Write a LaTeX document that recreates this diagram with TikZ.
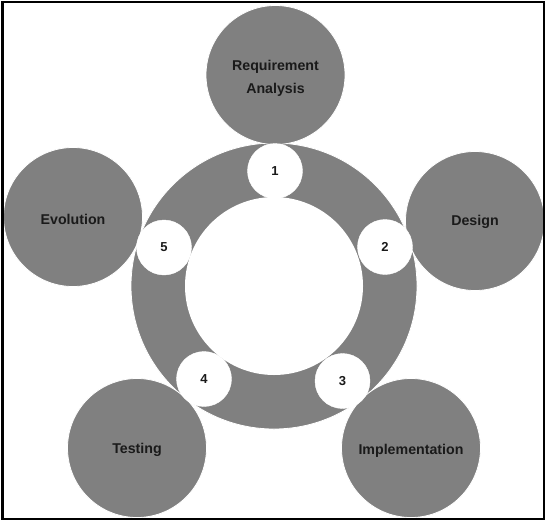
\documentclass[tikz,border=0pt]{standalone}
\usepackage{fontspec}
\setmainfont{Liberation Sans}
\begin{document}
\begin{tikzpicture}[x=1pt,y=-1pt,
  phase/.style={circle,fill=phasegray,draw=white,line width=0.8pt,minimum size=139pt,inner sep=0pt},
  phasetext/.style={font=\bfseries\fontsize{14.2}{23}\selectfont,text=textdark,align=center,inner sep=0pt},
  numdot/.style={circle,fill=white,draw=white,minimum size=55pt,inner sep=0pt,
    font=\bfseries\fontsize{13}{15}\selectfont,text=textdark}]
\definecolor{phasegray}{HTML}{808080}
\definecolor{textdark}{HTML}{1A1A1A}
\useasboundingbox (0,0) rectangle (545,520);
% ring
\node[circle,fill=phasegray,draw=white,line width=0.8pt,minimum size=286pt,inner sep=0pt] (ring) at (274,286) {};
\node[circle,fill=white,minimum size=178pt,inner sep=0pt] (hole) at (274,286) {};
% phases
\node[phase] (req) at (275.5,75) {};
\node[phase] (des) at (475,221) {};
\node[phase] (imp) at (411,448) {};
\node[phase] (tes) at (137,448) {};
\node[phase] (evo) at (73,217) {};
\node[phasetext] (reqt) at ([yshift=-3pt]req.center) {Requirement\\Analysis};
\node[phasetext] (dest) at ([yshift=-1pt]des.center) {Design};
\node[phasetext] (impt) at ([yshift=-3pt]imp.center) {Implementation};
\node[phasetext] (test) at ([yshift=-2pt]tes.center) {Testing};
\node[phasetext] (evot) at ([yshift=-2pt]evo.center) {Evolution};
% numbers
\node[numdot] (n1) at (275,171) {1};
\node[numdot] (n2) at (385,247) {2};
\node[numdot] (n3) at (342.5,381) {3};
\node[numdot] (n4) at (204,379) {4};
\node[numdot] (n5) at (164,247.5) {5};
% frame
\draw[line width=2pt,black] (1.5,1.5) rectangle (543.5,518.5);
\draw[line width=1pt,black] (3,2) -- (3,518);
\end{tikzpicture}
\end{document}
